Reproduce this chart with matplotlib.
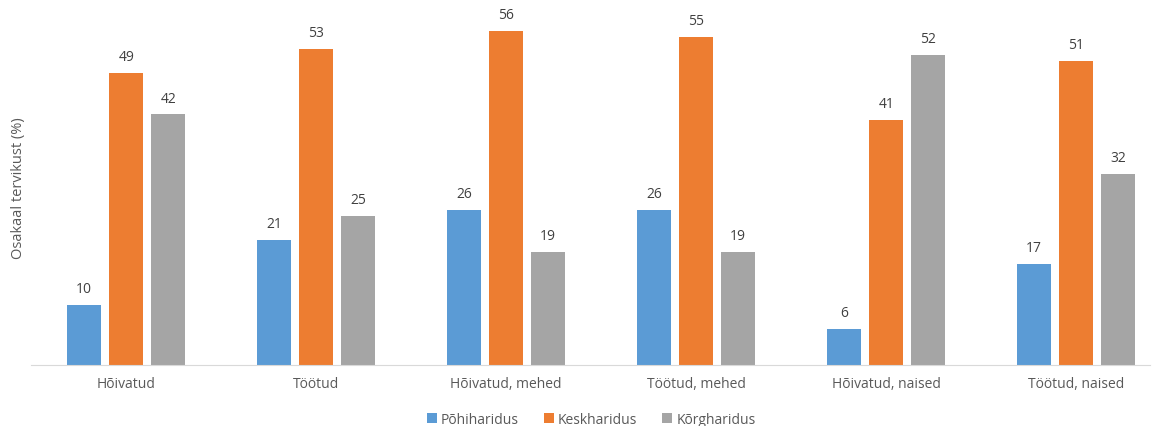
import numpy             as np
import matplotlib.pyplot as plt

plt.rcParams['font.family'] = ['Open Sans', 'DejaVu Sans']

categories = ['Hõivatud', 'Töötud', 'Hõivatud, mehed', 'Töötud, mehed', 'Hõivatud, naised', 'Töötud, naised']
series     = ['Põhiharidus', 'Keskharidus', 'Kõrgharidus']
pohi       = [10, 21, 26, 26, 6, 17]
kesk       = [49, 53, 56, 55, 41, 51]
korg       = [42, 25, 19, 19, 52, 32]
colors     = ['#5b9bd5', '#ed7d31', '#a5a5a5']
TEXT_COLOR = '#595959'

fig = plt.figure(figsize = (11.55, 4.27), dpi = 100)
ax  = fig.add_axes([0.027, 0.143, 0.969, 0.838])

x     = np.arange(len(categories))
step  = 0.221
width = 0.179

for i, (vals, name, col) in enumerate(zip([pohi, kesk, korg], series, colors)):
  pos  = x + (i - 1) * step
  bars = ax.bar(pos, vals, width = width, color = col, label = name)
  for b, v in zip(bars, vals):
    ax.text(b.get_x() + b.get_width() / 2, v + 1.5, str(v),
            ha = 'center', va = 'bottom', fontsize = 10, color = '#404040')

ax.set_xlim(-0.5, 5.39)
ax.set_ylim(0, 60)
ax.set_xticks(x)
ax.set_xticklabels(categories, fontsize = 10, color = TEXT_COLOR)
ax.tick_params(axis = 'x', length = 0, pad = 8)
ax.set_yticks([])
for s in ['top', 'right', 'left']:
  ax.spines[s].set_visible(False)
ax.spines['bottom'].set_color('#d9d9d9')

fig.text(0.016, 0.56, 'Osakaal tervikust (%)', rotation = 90, ha = 'center', va = 'center',
         fontsize = 10.5, color = TEXT_COLOR)

fig.legend(loc = 'center', bbox_to_anchor = (0.512, 0.015), ncol = 3, frameon = False,
           fontsize = 10, handlelength = 0.7, handleheight = 0.7, handletextpad = 0.3,
           columnspacing = 1.8, labelcolor = TEXT_COLOR)

fig.savefig('out.png', dpi = 100)
